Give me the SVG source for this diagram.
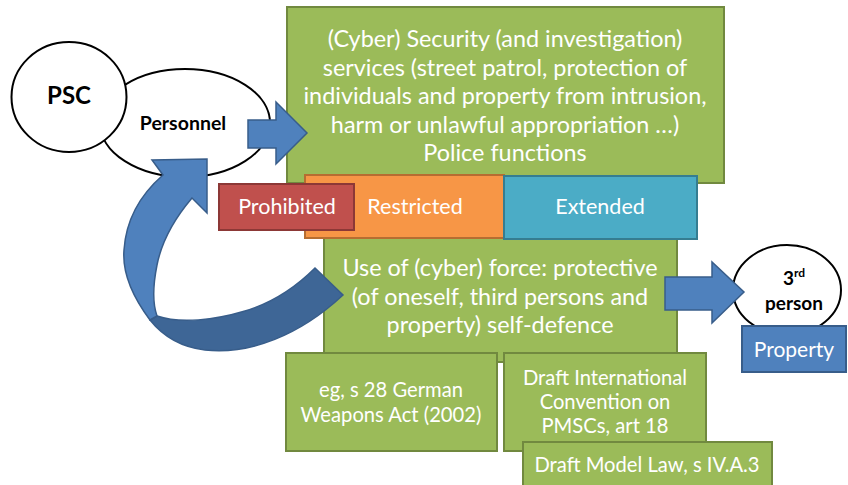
<svg xmlns="http://www.w3.org/2000/svg" width="848" height="485" viewBox="0 0 848 485">
<style>
text{font-family:Lato,"Liberation Sans",sans-serif;text-anchor:middle}
.w{fill:#ffffff}
.b{fill:#000000;font-weight:bold}
.green{fill:#9BBB59;stroke:#71893F;stroke-width:2}
.red{fill:#C0504D;stroke:#8C3836;stroke-width:2}
.orange{fill:#F79646;stroke:#B66D31;stroke-width:2}
.teal{fill:#4BACC6;stroke:#357D91;stroke-width:2}
.blue{fill:#4F81BD;stroke:#385D8A;stroke-width:1.5}
.dark{fill:#3E6696;stroke:#385D8A;stroke-width:1.5}
.oval{fill:#ffffff;stroke:#000000;stroke-width:2}
.t24{font-size:23.4px}
.t21{font-size:21.5px}
.t20{font-size:20.2px}
</style>
<rect width="848" height="485" fill="#ffffff"/>

<g id="personnel">
<ellipse class="oval" cx="185" cy="123" rx="85" ry="54"/>
<text class="b" x="183" y="130" font-size="19.5">Personnel</text>
</g>
<g id="psc">
<ellipse class="oval" cx="69" cy="97" rx="57.5" ry="55"/>
<text class="b" x="69" y="104" font-size="24">PSC</text>
</g>

<g id="security-services">
<rect class="green" x="287" y="7" width="437" height="176"/>
<text class="w t24" x="505" y="47">(Cyber) Security (and investigation)</text>
<text class="w t24" x="505" y="75.5">services (street patrol, protection of</text>
<text class="w t24" x="505" y="104">individuals and property from intrusion,</text>
<text class="w t24" x="505" y="132.5">harm or unlawful appropriation …)</text>
<text class="w t24" x="505" y="161">Police functions</text>
</g>

<g id="use-of-force">
<rect class="green" x="324" y="238" width="353" height="124"/>
<text class="w t24" x="500" y="276">Use of (cyber) force: protective</text>
<text class="w t24" x="500" y="304.5">(of oneself, third persons and</text>
<text class="w t24" x="500" y="333">property) self-defence</text>
</g>

<g id="restricted">
<rect class="orange" x="305" y="175" width="199" height="63"/>
<text class="w t21" x="415" y="214">Restricted</text>
</g>
<g id="extended">
<rect class="teal" x="504" y="176" width="193" height="63"/>
<text class="w t21" x="600" y="214">Extended</text>
</g>
<g id="prohibited">
<rect class="red" x="219" y="184" width="135" height="46"/>
<text class="w t21" x="287" y="214">Prohibited</text>
</g>

<g id="german-weapons-act">
<rect class="green" x="286" y="353" width="211" height="98"/>
<text class="w t20" x="391" y="397">eg, s 28 German</text>
<text class="w t20" x="391" y="422">Weapons Act (2002)</text>
</g>
<g id="draft-convention">
<rect class="green" x="504" y="353" width="202" height="98"/>
<text class="w t20" x="605" y="385">Draft International</text>
<text class="w t20" x="605" y="409">Convention on</text>
<text class="w t20" x="605" y="433">PMSCs, art 18</text>
</g>
<g id="draft-model-law">
<rect class="green" x="523" y="442" width="249" height="50"/>
<text class="w t20" x="647" y="472">Draft Model Law, s IV.A.3</text>
</g>

<g id="third-person">
<ellipse class="oval" cx="787" cy="290" rx="54" ry="45"/>
<text class="b" x="794" y="285" font-size="19">3<tspan font-size="12" dy="-8">rd</tspan></text>
<text class="b" x="794" y="310" font-size="19">person</text>
</g>
<g id="property">
<rect fill="#4F81BD" stroke="#385D8A" stroke-width="2" x="742" y="326" width="104" height="46"/>
<text class="w" x="794" y="357" font-size="21">Property</text>
</g>

<g id="connectors">
<path class="blue" d="M248,120 L276,120 L276,102 L307,133 L276,164 L276,148 L248,148 Z"/>
<path class="blue" d="M665,277 L712,277 L712,262 L744,292 L712,323 L712,310 L665,310 Z"/>
<path class="dark" d="M315,268 L343,295 C300,335 250,355 205,350 C180,347 162,335 150,320 L157,316 C180,324 215,320 245,311 C275,302 298,285 315,268 Z"/>
<path class="blue" d="M150,320 C135,300 122,275 124,250 C126,220 140,195 163,175 L152,160 L207,159 L207,213 L192,198 C175,218 162,240 157,265 C153,285 152,302 157,316 Z"/>
</g>
</svg>
